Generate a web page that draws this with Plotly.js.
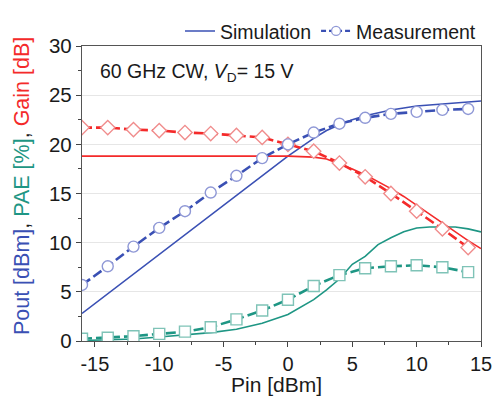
<!DOCTYPE html>
<html>
<head>
<meta charset="utf-8">
<script src="https://cdn.plot.ly/plotly-3.0.1.min.js"></script>
<style>html,body{margin:0;padding:0;background:#fff;}#chart{width:497px;height:397px;}</style>
</head>
<body>
<div id="chart"></div>
<script>
// Measurement input power (dBm)
const pinMeas = [-16, -14, -12, -10, -8, -6, -4, -2, 0, 2, 4, 6, 8, 10, 12, 14];
const poutMeas = [5.7, 7.6, 9.6, 11.5, 13.2, 15.1, 16.8, 18.6, 20.0, 21.2, 22.1, 22.7, 23.1, 23.3, 23.5, 23.6];
const gainMeas = [21.7, 21.7, 21.5, 21.4, 21.2, 21.1, 20.9, 20.7, 20.0, 19.3, 18.1, 16.7, 15.0, 13.2, 11.4, 9.5];
const paeMeas = [0.23, 0.33, 0.49, 0.72, 0.95, 1.4, 2.2, 3.1, 4.2, 5.6, 6.7, 7.4, 7.6, 7.7, 7.5, 7.0];

// Simulation input power (dBm)
const pinSim = [-16, -14, -12, -10, -8, -6, -4, -2, 0, 2, 3, 4, 5, 6, 7, 8, 9, 10, 11, 12, 13, 14, 15];
const poutSim = [2.8, 4.8, 6.8, 8.8, 10.8, 12.8, 14.8, 16.8, 18.8, 20.6, 21.4, 22.0, 22.5, 22.9, 23.2, 23.5, 23.7, 23.9, 24.0, 24.1, 24.2, 24.3, 24.4];
const gainSim = [18.8, 18.8, 18.8, 18.8, 18.8, 18.8, 18.8, 18.8, 18.8, 18.7, 18.5, 18.0, 17.5, 16.9, 16.2, 15.5, 14.7, 13.8, 12.9, 12.0, 11.1, 10.2, 9.4];
const paeSim = [0.05, 0.1, 0.2, 0.4, 0.6, 0.85, 1.2, 1.8, 2.7, 4.2, 5.2, 6.3, 7.8, 8.6, 9.8, 10.5, 11.1, 11.5, 11.6, 11.6, 11.6, 11.4, 11.1];

const legendNames = ["Simulation", "Measurement"];

const BLUE = "#3a50b4", BLUE_M = "#8f98d6";
const RED = "#f42a2a", RED_M = "#f08c8c";
const TEAL = "#1e9684", TEAL_M = "#7fc3b7";

function sim(y, color) {
  return {x: pinSim, y: y, mode: "lines", showlegend: false, hoverinfo: "skip",
          line: {color: color, width: 1.6}};
}
function meas(y, color, mcolor, symbol) {
  return {x: pinMeas, y: y, mode: "lines+markers", showlegend: false, hoverinfo: "skip",
          line: {color: color, width: 2.6, dash: "10px,4px"},
          marker: {symbol: symbol, size: 11, color: "#fff", line: {color: mcolor, width: 1.4}}};
}

const traces = [
  sim(poutSim, BLUE), sim(paeSim, TEAL), sim(gainSim, RED),
  meas(paeMeas, TEAL, TEAL_M, "square"),
  meas(gainMeas, RED, RED_M, "diamond"),
  meas(poutMeas, BLUE, BLUE_M, "circle"),
  {x: [null], y: [null], mode: "lines", name: legendNames[0], line: {color: BLUE, width: 1.6}},
  {x: [null], y: [null], mode: "lines+markers", name: legendNames[1],
   line: {color: BLUE, width: 2.2, dash: "5px,3px"},
   marker: {symbol: "circle", size: 9, color: "#fff", line: {color: BLUE_M, width: 1.3}}}
];

const FONT = "Liberation Sans, Arial, sans-serif";
const TXT = "#1a1a1a";
const layout = {
  width: 497, height: 397,
  margin: {l: 81.5, r: 15.5, t: 34, b: 55.5},
  paper_bgcolor: "#fff", plot_bgcolor: "#fff",
  font: {family: FONT, size: 20, color: TXT},
  showlegend: true,
  legend: {orientation: "h", x: 1.0, xanchor: "right", y: 1.05, yanchor: "middle",
           font: {family: FONT, size: 19.5, color: TXT}, bgcolor: "rgba(0,0,0,0)",
           itemwidth: 30, tracegroupgap: 0, itemclick: false, traceorder: "normal"},
  xaxis: {range: [-16, 15], tickvals: [-15, -10, -5, 0, 5, 10, 15], ticktext: ["-15", "-10", "-5", "0", "5", "10", "15"],
          ticks: "outside", ticklen: 5,
          tickcolor: "#444", showline: true, linecolor: "#555", linewidth: 1.2, mirror: true,
          showgrid: false, zeroline: false,
          minor: {tickvals: [-12.5, -7.5, -2.5, 2.5, 7.5, 12.5], ticks: "outside", ticklen: 3, tickcolor: "#444"},
          tickfont: {size: 20}},
  yaxis: {range: [0, 30], tickvals: [0, 5, 10, 15, 20, 25, 30], ticks: "outside", ticklen: 5,
          tickcolor: "#444", showline: true, linecolor: "#555", linewidth: 1.2, mirror: true,
          showgrid: true, gridcolor: "#e6e6e6", gridwidth: 1, zeroline: false,
          minor: {tickvals: [2.5, 7.5, 12.5, 17.5, 22.5, 27.5], ticks: "outside", ticklen: 3, tickcolor: "#444"},
          tickfont: {size: 20.5}},
  annotations: [
    {xref: "paper", yref: "paper", x: 0.041, y: 0.91, xanchor: "left", yanchor: "middle",
     showarrow: false, text: "60 GHz CW, <i>V</i><sub>D</sub>= 15 V",
     font: {family: FONT, size: 19.5, color: TXT}},
    {xref: "paper", yref: "paper", x: 0.4885, y: -0.148, xanchor: "center", yanchor: "middle",
     showarrow: false, text: "Pin [dBm]", font: {family: FONT, size: 21, color: TXT}},
    {xref: "paper", yref: "paper", x: -0.1487, y: 0.524, xanchor: "center", yanchor: "middle",
     showarrow: false, textangle: -90,
     text: '<span style="color:' + BLUE + '">Pout [dBm]</span>, <span style="color:' + TEAL + '">PAE [%]</span>, <span style="color:' + RED + '">Gain [dB]</span>',
     font: {family: FONT, size: 21.5, color: TXT}}
  ]
};

Plotly.newPlot("chart", traces, layout, {staticPlot: true, displayModeBar: false});
</script>
</body>
</html>
